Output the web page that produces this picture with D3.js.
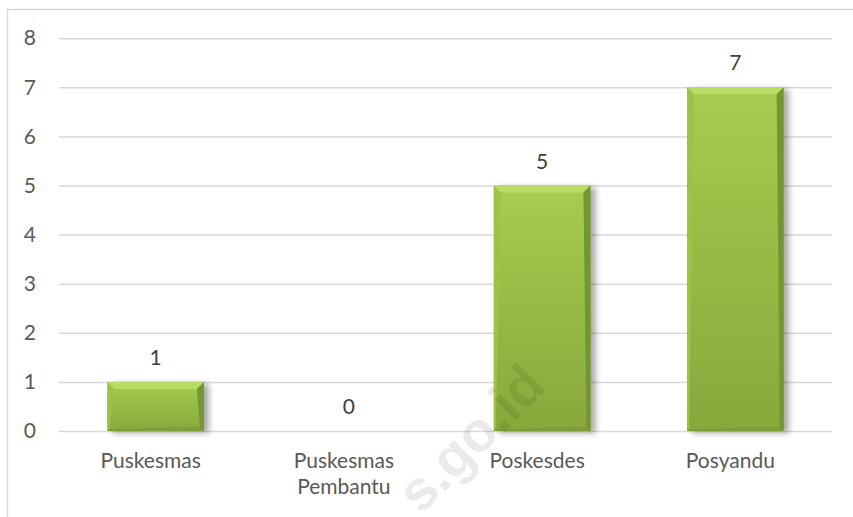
<!DOCTYPE html>
<html>
<head>
<meta charset="utf-8">
<script src="https://cdn.jsdelivr.net/npm/d3@7"></script>
<style>
  body { margin: 0; background: #fff; }
  svg { display: block; font-family: Lato, "Open Sans", sans-serif; }
</style>
</head>
<body>
<div class="mainChart"></div>
<script>
const categories = ['Puskesmas', 'Puskesmas Pembantu', 'Poskesdes', 'Posyandu'];
const labelLines = [['Puskesmas'], ['Puskesmas', 'Pembantu'], ['Poskesdes'], ['Posyandu']];
const values = [1, 0, 5, 7];
const yTicks = [0, 1, 2, 3, 4, 5, 6, 7, 8];

const width = 853;
const height = 517;
const plotLeft = 59, plotRight = 832, plotTop = 38.2, plotBottom = 431;

const rows = categories.map((c, i) => ({ cat: c, value: values[i], lines: labelLines[i] }));

const svg = d3.select('.mainChart').append('svg')
  .attr('width', width)
  .attr('height', height);

const defs = svg.append('defs');
const grad = defs.append('linearGradient')
  .attr('id', 'barFill').attr('x1', 0).attr('y1', 0).attr('x2', 0).attr('y2', 1);
grad.append('stop').attr('offset', '0%').attr('stop-color', '#a6cd50');
grad.append('stop').attr('offset', '100%').attr('stop-color', '#86a83a');

const shadow = defs.append('filter').attr('id', 'shadow')
  .attr('x', '-20%').attr('y', '-10%').attr('width', '150%').attr('height', '130%');
shadow.append('feGaussianBlur').attr('stdDeviation', 3);

// chart frame
svg.append('rect')
  .attr('x', 7.5).attr('y', 9.5)
  .attr('width', 900).attr('height', 600)
  .attr('fill', 'none')
  .attr('stroke', '#d9d9d9')
  .attr('stroke-width', 1.5);

const x = d3.scaleBand()
  .domain(categories)
  .range([plotLeft, plotRight])
  .paddingInner(0.5)
  .paddingOuter(0.25);

const y = d3.scaleLinear()
  .domain([0, 8])
  .range([plotBottom, plotTop]);

// gridlines
svg.append('g')
  .attr('transform', 'translate(' + plotLeft + ',0)')
  .call(d3.axisLeft(y).tickValues(yTicks).tickSize(-(plotRight - plotLeft)).tickFormat(''))
  .call(g => g.select('.domain').remove())
  .call(g => g.selectAll('line').attr('stroke', '#d9d9d9').attr('stroke-width', 1.5));

// y tick labels
svg.append('g')
  .attr('transform', 'translate(36,0)')
  .call(d3.axisLeft(y).tickValues(yTicks).tickSize(0).tickPadding(0))
  .call(g => g.select('.domain').remove())
  .call(g => g.selectAll('text')
    .attr('fill', '#595959')
    .style('font-size', '21px')
    .style('font-family', 'Lato, sans-serif'));

// bars
const bw = x.bandwidth();
const bars = svg.append('g').selectAll('g')
  .data(rows.filter(d => d.value > 0))
  .enter().append('g');

bars.append('rect')
  .attr('x', d => x(d.cat) + 5)
  .attr('y', d => y(d.value) + 2)
  .attr('width', bw)
  .attr('height', d => plotBottom - y(d.value))
  .attr('fill', '#000')
  .attr('opacity', 0.35)
  .attr('filter', 'url(#shadow)');

bars.append('rect')
  .attr('x', d => x(d.cat))
  .attr('y', d => y(d.value))
  .attr('width', bw)
  .attr('height', d => plotBottom - y(d.value))
  .attr('fill', 'url(#barFill)');

const bevel = 7;
// top bevel
bars.append('path')
  .attr('fill', '#b8dc66')
  .attr('d', d => {
    const x0 = x(d.cat), x1 = x0 + bw, y0 = y(d.value);
    return 'M' + x0 + ',' + y0 + 'L' + x1 + ',' + y0 + 'L' + (x1 - bevel) + ',' + (y0 + bevel) +
      'L' + (x0 + bevel) + ',' + (y0 + bevel) + 'Z';
  });
// left bevel
bars.append('path')
  .attr('fill', '#9cc24a')
  .attr('d', d => {
    const x0 = x(d.cat), y0 = y(d.value);
    return 'M' + x0 + ',' + y0 + 'L' + (x0 + bevel) + ',' + (y0 + bevel) + 'L' + (x0 + 2) + ',' + (plotBottom - 2) +
      'L' + x0 + ',' + plotBottom + 'Z';
  });
// right bevel
bars.append('path')
  .attr('fill', '#749530')
  .attr('d', d => {
    const x1 = x(d.cat) + bw, y0 = y(d.value);
    return 'M' + x1 + ',' + y0 + 'L' + (x1 - bevel) + ',' + (y0 + bevel) + 'L' + (x1 - 4) + ',' + (plotBottom - 4) +
      'L' + x1 + ',' + plotBottom + 'Z';
  });
// bottom bevel
bars.append('path')
  .attr('fill', '#7d9e36')
  .attr('d', d => {
    const x0 = x(d.cat), x1 = x0 + bw;
    return 'M' + x0 + ',' + plotBottom + 'L' + (x0 + 2) + ',' + (plotBottom - 2) + 'L' + (x1 - 4) + ',' + (plotBottom - 4) +
      'L' + x1 + ',' + plotBottom + 'Z';
  });

// value labels
svg.append('g').selectAll('text')
  .data(rows)
  .enter().append('text')
  .attr('x', d => x(d.cat) + bw / 2)
  .attr('y', d => y(d.value) - 17)
  .attr('text-anchor', 'middle')
  .attr('fill', '#404040')
  .style('font-size', '21px')
  .text(d => d.value);

// category labels
const catLabels = svg.append('g').selectAll('text')
  .data(rows)
  .enter().append('text')
  .attr('y', 468)
  .attr('text-anchor', 'middle')
  .attr('fill', '#595959')
  .style('font-size', '21px');
catLabels.selectAll('tspan')
  .data(d => d.lines.map(line => ({ line, cx: x(d.cat) + bw / 2 - 5 })))
  .enter().append('tspan')
  .attr('x', d => d.cx)
  .attr('dy', (d, i) => i === 0 ? 0 : 26)
  .text(d => d.line);

// watermark (only its visible part lies inside the picture)
svg.append('text')
  .attr('transform', 'translate(548,388) rotate(-45)')
  .attr('text-anchor', 'end')
  .attr('fill', '#000')
  .attr('opacity', 0.08)
  .style('font-family', '"Liberation Sans", Arial, sans-serif')
  .style('font-weight', 'bold')
  .style('font-size', '56px')
  .text('s.go.id');
</script>
</body>
</html>
